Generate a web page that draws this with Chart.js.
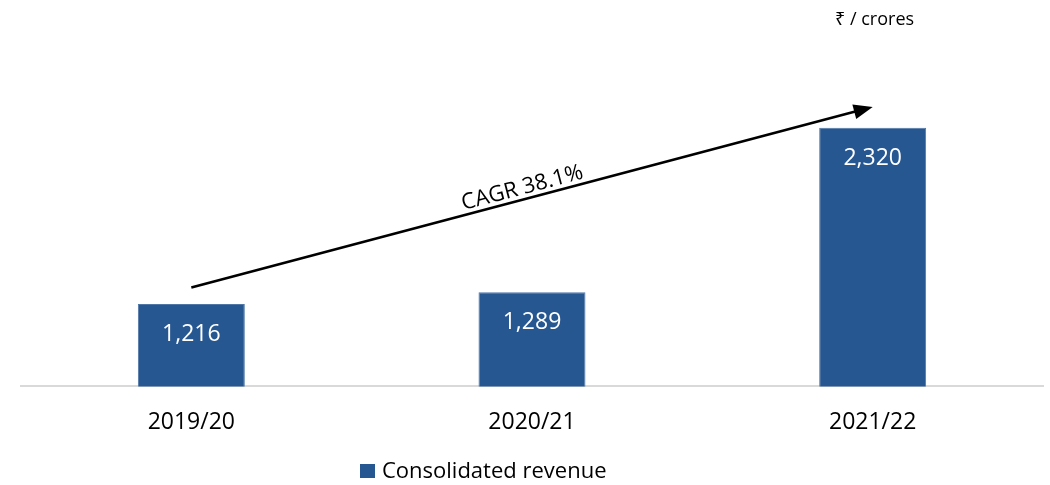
<!DOCTYPE html>
<html>
<head>
<meta charset="utf-8">
<script src="https://cdn.jsdelivr.net/npm/chart.js@4/dist/chart.umd.min.js"></script>
<style>
  html, body { margin: 0; padding: 0; background: #ffffff; }
  #wrap { width: 1050px; height: 485px; position: relative; }
</style>
</head>
<body>
<div id="wrap"><canvas id="c" width="1050" height="485"></canvas></div>
<script>
// ---- data ----
const categories = ['2019/20', '2020/21', '2021/22'];
const revenue = [1216, 1289, 2320];
const seriesName = 'Consolidated revenue';
const unitLabel = '₹ / crores';
const cagrLabel = 'CAGR 38.1%';
// arrow anchors: [category index, value]
const arrowStart = [0, 1320];
const arrowEnd = [2, 2450];
const yMin = 700;
const yMax = 2700;

const FONT = '"Open Sans", "Noto Sans", "DejaVu Sans", sans-serif';
const BAR_COLOR = '#275791';

const labelsPlugin = {
  id: 'customDraw',
  afterDatasetsDraw(chart) {
    const ctx = chart.ctx;
    const meta = chart.getDatasetMeta(0);
    ctx.save();
    // data labels
    ctx.fillStyle = '#ffffff';
    ctx.font = '23px ' + FONT;
    ctx.textAlign = 'center';
    ctx.textBaseline = 'alphabetic';
    meta.data.forEach((bar, i) => {
      ctx.fillText(revenue[i].toLocaleString('en-US'), bar.x, bar.y + 37);
    });

    // arrow
    const xs = chart.scales.x, ys = chart.scales.y;
    const x1 = xs.getPixelForValue(arrowStart[0]), y1 = ys.getPixelForValue(arrowStart[1]);
    const x2 = xs.getPixelForValue(arrowEnd[0]), y2 = ys.getPixelForValue(arrowEnd[1]);
    const ang = Math.atan2(y2 - y1, x2 - x1);
    const headLen = 19, headHalf = 7.5;
    const bx = x2 - headLen * Math.cos(ang), by = y2 - headLen * Math.sin(ang);
    ctx.strokeStyle = '#000000';
    ctx.lineWidth = 2.6;
    ctx.beginPath();
    ctx.moveTo(x1, y1);
    ctx.lineTo(bx + 2 * Math.cos(ang), by + 2 * Math.sin(ang));
    ctx.stroke();
    ctx.fillStyle = '#000000';
    ctx.beginPath();
    ctx.moveTo(x2, y2);
    ctx.lineTo(bx - headHalf * Math.sin(ang), by + headHalf * Math.cos(ang));
    ctx.lineTo(bx + headHalf * Math.sin(ang), by - headHalf * Math.cos(ang));
    ctx.closePath();
    ctx.fill();

    // CAGR text
    const t = 0.49;
    const mx = x1 + (x2 - x1) * t, my = y1 + (y2 - y1) * t;
    ctx.save();
    ctx.translate(mx, my);
    ctx.rotate(ang);
    ctx.fillStyle = '#000000';
    ctx.font = '22px ' + FONT;
    ctx.textAlign = 'center';
    ctx.textBaseline = 'alphabetic';
    ctx.fillText(cagrLabel, 0, -5);
    ctx.restore();

    // unit label
    ctx.fillStyle = '#000000';
    ctx.font = '18px ' + FONT;
    ctx.textAlign = 'left';
    ctx.fillText(unitLabel, 835, 25);

    // legend
    ctx.fillStyle = BAR_COLOR;
    ctx.fillRect(360, 464, 15, 14);
    ctx.fillStyle = '#000000';
    ctx.font = '22px ' + FONT;
    ctx.fillText(seriesName, 382, 478);
    ctx.restore();
  }
};

new Chart(document.getElementById('c'), {
  type: 'bar',
  data: {
    labels: categories,
    datasets: [{
      label: seriesName,
      data: revenue,
      backgroundColor: BAR_COLOR,
      borderColor: '#4e76a6',
      borderWidth: 1,
      barPercentage: 0.314,
      categoryPercentage: 1.0
    }]
  },
  options: {
    responsive: false,
    animation: false,
    devicePixelRatio: 1,
    layout: { padding: { left: 21, right: 7, top: 67, bottom: 27 } },
    plugins: {
      legend: { display: false },
      tooltip: { enabled: false },
      title: { display: false }
    },
    scales: {
      x: {
        grid: { display: false, drawTicks: false },
        border: { display: true, color: '#d9d9d9', width: 2 },
        ticks: {
          color: '#000000',
          font: { family: FONT, size: 23 },
          padding: 22
        }
      },
      y: {
        display: false,
        min: yMin,
        max: yMax
      }
    }
  },
  plugins: [labelsPlugin]
});
</script>
</body>
</html>
